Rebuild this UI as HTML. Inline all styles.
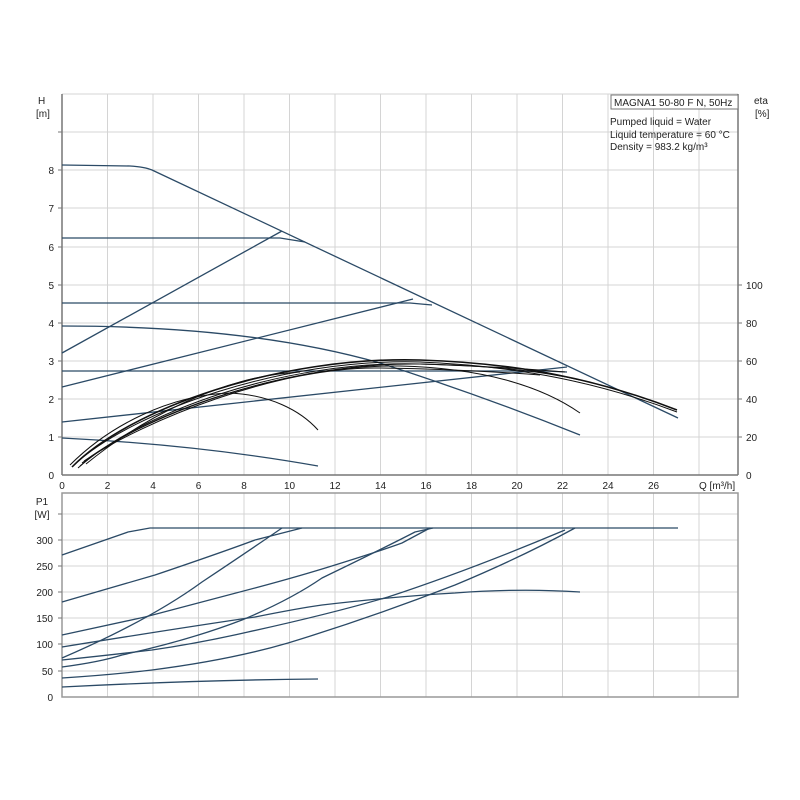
<!DOCTYPE html>
<html><head><meta charset="utf-8"><style>
html,body{margin:0;padding:0;background:#fff;}
svg{display:block;font-family:"Liberation Sans",sans-serif;font-size:10px;fill:#222;}
</style></head><body>
<svg width="800" height="800" viewBox="0 0 800 800" xmlns="http://www.w3.org/2000/svg">
<rect width="800" height="800" fill="#fff"/>
<g stroke="#d4d4d4" stroke-width="1">
<line x1="107.5" y1="94" x2="107.5" y2="475"/><line x1="153" y1="94" x2="153" y2="475"/><line x1="198.5" y1="94" x2="198.5" y2="475"/><line x1="244" y1="94" x2="244" y2="475"/><line x1="289.5" y1="94" x2="289.5" y2="475"/><line x1="335" y1="94" x2="335" y2="475"/><line x1="380.5" y1="94" x2="380.5" y2="475"/><line x1="426" y1="94" x2="426" y2="475"/><line x1="471.5" y1="94" x2="471.5" y2="475"/><line x1="517" y1="94" x2="517" y2="475"/><line x1="562.5" y1="94" x2="562.5" y2="475"/><line x1="608" y1="94" x2="608" y2="475"/><line x1="653.5" y1="94" x2="653.5" y2="475"/><line x1="699" y1="94" x2="699" y2="475"/>
<line x1="62" y1="437" x2="738" y2="437"/><line x1="62" y1="399" x2="738" y2="399"/><line x1="62" y1="361" x2="738" y2="361"/><line x1="62" y1="323" x2="738" y2="323"/><line x1="62" y1="285" x2="738" y2="285"/><line x1="62" y1="247" x2="738" y2="247"/><line x1="62" y1="208" x2="738" y2="208"/><line x1="62" y1="170" x2="738" y2="170"/><line x1="62" y1="132" x2="738" y2="132"/>
<line x1="62" y1="94" x2="738" y2="94"/>
</g>
<g stroke="#777" stroke-width="1.5" fill="none">
<line x1="62" y1="94" x2="62" y2="475"/><line x1="62" y1="475" x2="738" y2="475"/><line x1="738" y1="94" x2="738" y2="475"/>
</g>
<g stroke="#777"><line x1="58" y1="437" x2="62" y2="437"/><line x1="58" y1="399" x2="62" y2="399"/><line x1="58" y1="361" x2="62" y2="361"/><line x1="58" y1="323" x2="62" y2="323"/><line x1="58" y1="285" x2="62" y2="285"/><line x1="58" y1="247" x2="62" y2="247"/><line x1="58" y1="208" x2="62" y2="208"/><line x1="58" y1="170" x2="62" y2="170"/><line x1="58" y1="132" x2="62" y2="132"/>
<line x1="738" y1="437" x2="742" y2="437"/><line x1="738" y1="399" x2="742" y2="399"/><line x1="738" y1="361" x2="742" y2="361"/><line x1="738" y1="323" x2="742" y2="323"/><line x1="738" y1="285" x2="742" y2="285"/></g>
<g text-anchor="end"><text x="54" y="479">0</text><text x="54" y="441">1</text><text x="54" y="403">2</text><text x="54" y="365">3</text><text x="54" y="327">4</text><text x="54" y="289">5</text><text x="54" y="251">6</text><text x="54" y="212">7</text><text x="54" y="174">8</text></g>
<g><text x="746" y="479">0</text><text x="746" y="441">20</text><text x="746" y="403">40</text><text x="746" y="365">60</text><text x="746" y="327">80</text><text x="746" y="289">100</text></g>
<g text-anchor="middle"><text x="62" y="489">0</text><text x="107.5" y="489">2</text><text x="153" y="489">4</text><text x="198.5" y="489">6</text><text x="244" y="489">8</text><text x="289.5" y="489">10</text><text x="335" y="489">12</text><text x="380.5" y="489">14</text><text x="426" y="489">16</text><text x="471.5" y="489">18</text><text x="517" y="489">20</text><text x="562.5" y="489">22</text><text x="608" y="489">24</text><text x="653.5" y="489">26</text></g>
<text x="699" y="489">Q [m³/h]</text>
<text x="38" y="104">H</text><text x="36" y="117">[m]</text>
<text x="754" y="104">eta</text><text x="755" y="117">[%]</text>
<rect x="611" y="95" width="127" height="14" fill="#fff" stroke="#777"/>
<text x="614" y="106">MAGNA1 50-80 F N, 50Hz</text>
<text x="610" y="125">Pumped liquid = Water</text>
<text x="610" y="138">Liquid temperature = 60 °C</text>
<text x="610" y="150">Density = 983.2 kg/m³</text>
<g fill="none" stroke="#2b4a66" stroke-width="1.3">
<path d="M62,165 L130,166 Q145,167 152,170 L678,418"/>
<path d="M62,238 L280,238 L305,242"/>
<path d="M62,303 L410,303 L432,305"/>
<path d="M62,371 L545,371 L567,372"/>
<path d="M62,353 L282,231"/>
<path d="M62,387 L413,299"/>
<path d="M62,422 L567,367"/>
<path d="M62,326 Q250,326 380,363 Q480,395 580,435"/>
<path d="M62,438 Q200,445 318,466"/>
</g>
<g fill="none" stroke="#111" stroke-width="1">
<path d="M72,467 C130,408 280,356 420,360 C520,363 600,380 677,410" stroke-width="1.6"/>
<path d="M75,464 C135,410 285,358 420,362 C520,366 600,383 677,412"/>
<path d="M80,466 C140,414 290,362 420,364 C500,366 545,372 580,380"/>
<path d="M82,463 C140,418 280,364 400,366 C480,368 540,385 580,413"/>
<path d="M78,468 C140,412 285,360 420,364 C480,366 530,369 565,372"/>
<path d="M84,461 C145,420 280,366 380,368 C450,369 500,372 540,375"/>
<path d="M70,465 C110,425 170,395 230,393 C270,395 300,410 318,430"/>
<path d="M86,464 C140,420 220,376 300,372"/>
</g>
<g stroke="#d4d4d4" stroke-width="1">
<line x1="107.5" y1="493" x2="107.5" y2="697"/><line x1="153" y1="493" x2="153" y2="697"/><line x1="198.5" y1="493" x2="198.5" y2="697"/><line x1="244" y1="493" x2="244" y2="697"/><line x1="289.5" y1="493" x2="289.5" y2="697"/><line x1="335" y1="493" x2="335" y2="697"/><line x1="380.5" y1="493" x2="380.5" y2="697"/><line x1="426" y1="493" x2="426" y2="697"/><line x1="471.5" y1="493" x2="471.5" y2="697"/><line x1="517" y1="493" x2="517" y2="697"/><line x1="562.5" y1="493" x2="562.5" y2="697"/><line x1="608" y1="493" x2="608" y2="697"/><line x1="653.5" y1="493" x2="653.5" y2="697"/><line x1="699" y1="493" x2="699" y2="697"/>
<line x1="62" y1="671" x2="738" y2="671"/><line x1="62" y1="644" x2="738" y2="644"/><line x1="62" y1="618" x2="738" y2="618"/><line x1="62" y1="592" x2="738" y2="592"/><line x1="62" y1="566" x2="738" y2="566"/><line x1="62" y1="540" x2="738" y2="540"/><line x1="62" y1="514" x2="738" y2="514"/>
</g>
<rect x="62" y="493" width="676" height="204" fill="none" stroke="#999" stroke-width="1.5"/>
<g stroke="#777"><line x1="58" y1="671" x2="62" y2="671"/><line x1="58" y1="644" x2="62" y2="644"/><line x1="58" y1="618" x2="62" y2="618"/><line x1="58" y1="592" x2="62" y2="592"/><line x1="58" y1="566" x2="62" y2="566"/><line x1="58" y1="540" x2="62" y2="540"/><line x1="58" y1="514" x2="62" y2="514"/></g>
<g text-anchor="end"><text x="53" y="701">0</text><text x="53" y="675">50</text><text x="53" y="648">100</text><text x="53" y="622">150</text><text x="53" y="596">200</text><text x="53" y="570">250</text><text x="53" y="544">300</text></g>
<text x="42" y="505" text-anchor="middle">P1</text><text x="42" y="518" text-anchor="middle">[W]</text>
<g fill="none" stroke="#2b4a66" stroke-width="1.3">
<path d="M62,555 L128,532 L150,528 L678,528" />
<path d="M62,602 L155,575 Q220,553 255,540 L302,528"/>
<path d="M62,658 Q150,620 202,582 Q250,550 282,528"/>
<path d="M62,635 L145,617 Q210,600 255,588 Q300,576 335,565 Q380,551 402,543 L430,528"/>
<path d="M62,647 Q180,628 255,617 Q300,608 322,605 Q400,596 455,593 Q520,588 580,592"/>
<path d="M62,667 Q100,662 122,655 Q190,640 242,620 Q290,600 322,578 Q380,550 415,532 L433,528"/>
<path d="M62,660 Q110,655 152,650 Q200,643 248,632 Q330,614 388,597 Q470,570 565,530"/>
<path d="M62,678 Q110,675 152,670 Q230,660 288,643 Q370,618 455,585 Q520,558 575,528"/>
<path d="M62,687 Q200,680 318,679"/>
</g>
</svg>
</body></html>
